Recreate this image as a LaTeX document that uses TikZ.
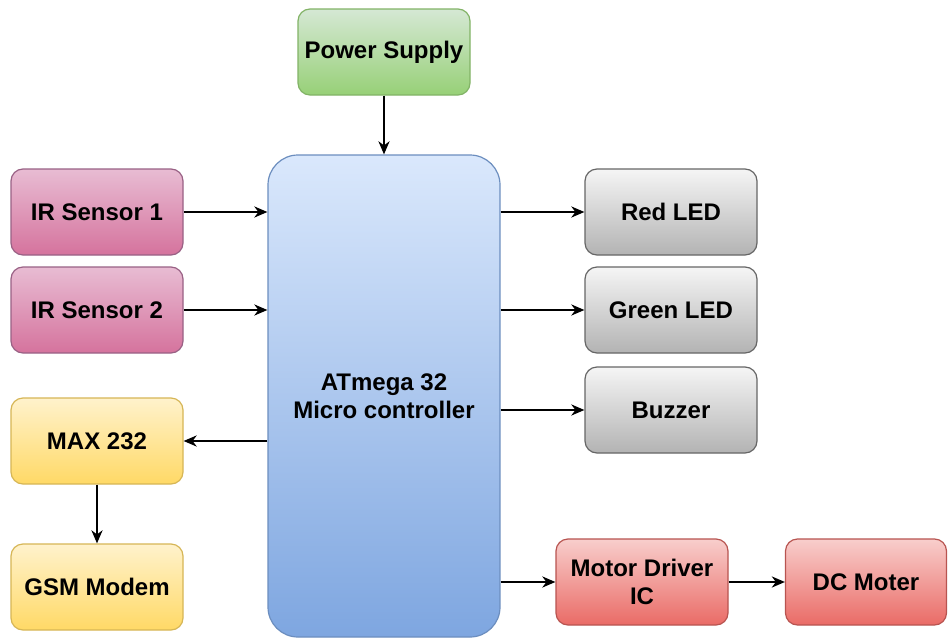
\documentclass[tikz,border=0pt]{standalone}
\usepackage{fontspec}
\setmainfont{Liberation Sans}
\usepackage{tikz}
\usetikzlibrary{arrows.meta, positioning}

\definecolor{pinkTop}{HTML}{E8BCD3}
\definecolor{pinkBot}{HTML}{D5739D}
\definecolor{pinkLine}{HTML}{996185}
\definecolor{greenTop}{HTML}{D5E8D4}
\definecolor{greenBot}{HTML}{97D077}
\definecolor{greenLine}{HTML}{82B366}
\definecolor{blueTop}{HTML}{DAE8FC}
\definecolor{blueBot}{HTML}{7EA6E0}
\definecolor{blueLine}{HTML}{6C8EBF}
\definecolor{yellowTop}{HTML}{FFF2CC}
\definecolor{yellowBot}{HTML}{FFD966}
\definecolor{yellowLine}{HTML}{D6B656}
\definecolor{grayTop}{HTML}{F5F5F5}
\definecolor{grayBot}{HTML}{B3B3B3}
\definecolor{grayLine}{HTML}{666666}
\definecolor{redTop}{HTML}{F8CECC}
\definecolor{redBot}{HTML}{EA6B66}
\definecolor{redLine}{HTML}{B85450}

\begin{document}
\begin{tikzpicture}[x=1pt, y=-1pt, >={Stealth[length=13pt, width=11pt, inset=4pt]},
        block/.style={rectangle, rounded corners=12pt, minimum width=172pt, minimum height=86pt,
            inner sep=0pt, align=center, line width=1.2pt, font=\fontsize{24}{28}\selectfont\bfseries},
        sensor/.style={block, draw=pinkLine, top color=pinkTop, bottom color=pinkBot},
        power/.style={block, draw=greenLine, top color=greenTop, bottom color=greenBot},
        serial/.style={block, draw=yellowLine, top color=yellowTop, bottom color=yellowBot},
        output/.style={block, draw=grayLine, top color=grayTop, bottom color=grayBot},
        motor/.style={block, draw=redLine, top color=redTop, bottom color=redBot},
        link/.style={->, line width=2.2pt}]
        \useasboundingbox[fill=white] (0,0) rectangle (948,640);

        % Nodes
        \node[power] (PS) at (384, 52) {Power Supply};
        \node[block, rounded corners=30pt, minimum width=232pt, minimum height=482pt,
            draw=blueLine, top color=blueTop, bottom color=blueBot] (MCU) at (384, 396)
            {ATmega 32\\Micro controller};

        \node[sensor] (IR1) at (97, 212) {IR Sensor 1};
        \node[sensor] (IR2) at (97, 310) {IR Sensor 2};
        \node[serial] (MAX) at (97, 441) {MAX 232};
        \node[serial] (GSM) at (97, 587) {GSM Modem};

        \node[output] (RED) at (671, 212) {Red LED};
        \node[output] (GRN) at (671, 310) {Green LED};
        \node[output] (BUZ) at (671, 410) {Buzzer};

        \node[motor] (DRV) at (642, 582) {Motor Driver\\IC};
        \node[motor, minimum width=161pt] (DCM) at (866, 582) {DC Moter};

        % Directed edges
        \draw[link] (PS) -- (MCU);
        \draw[link] (IR1) -- (IR1 -| MCU.west);
        \draw[link] (IR2) -- (IR2 -| MCU.west);
        \draw[link] (MAX -| MCU.west) -- (MAX);
        \draw[link] (MAX) -- (GSM);
        \draw[link] (RED -| MCU.east) -- (RED);
        \draw[link] (GRN -| MCU.east) -- (GRN);
        \draw[link] (BUZ -| MCU.east) -- (BUZ);
        \draw[link] (DRV -| MCU.east) -- (DRV);
        \draw[link] (DRV) -- (DCM);
    \end{tikzpicture}
\end{document}
